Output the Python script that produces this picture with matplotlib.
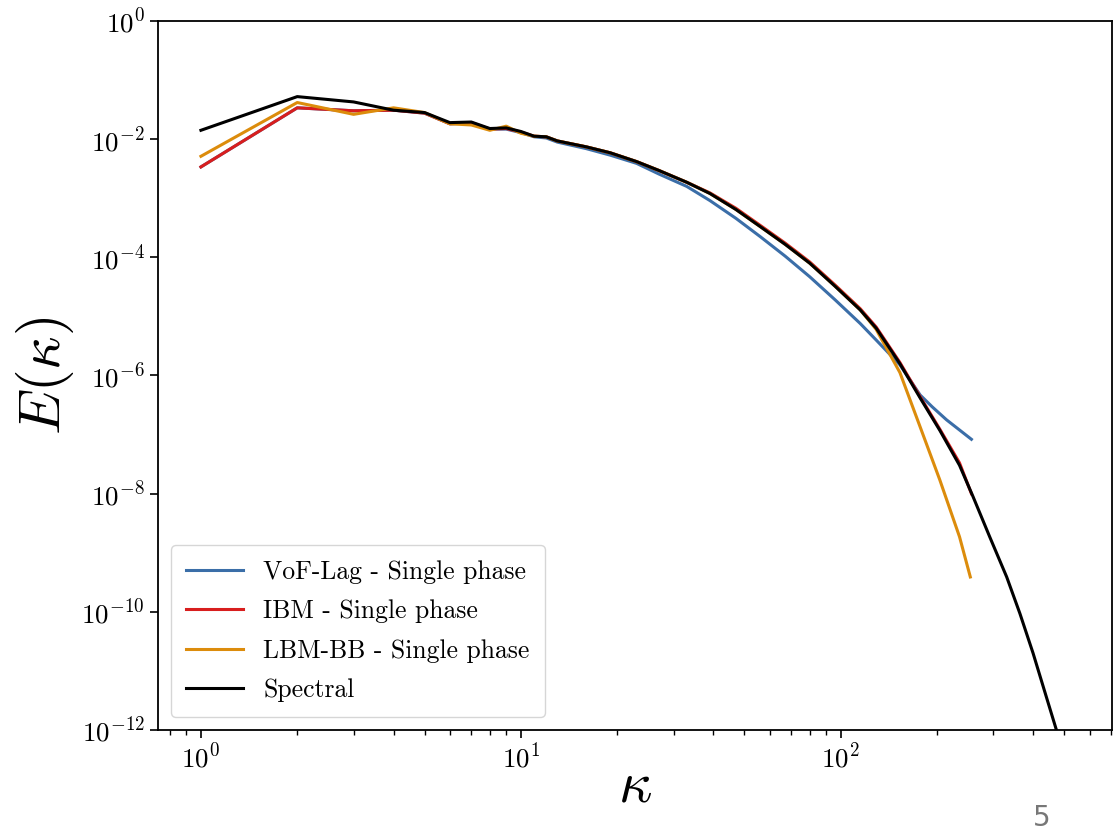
import matplotlib
matplotlib.use('Agg')
import matplotlib.pyplot as plt
import numpy as np

# Energy spectra E(k): log10 values
k_vof = [1, 2, 3, 4, 5, 6, 7, 8, 9, 10, 11, 12, 13, 16, 19, 23, 27, 33, 39, 47, 56, 67, 80, 96,
         115, 129, 153, 177, 193, 214, 256]
logE_vof = [-2.47, -1.47, -1.52, -1.51, -1.56, -1.74, -1.73, -1.83, -1.83, -1.89, -1.96, -1.98, -2.05,
            -2.16, -2.27, -2.41, -2.59, -2.80, -3.04, -3.34, -3.65, -3.98, -4.33, -4.72,
            -5.12, -5.40, -5.82, -6.33, -6.53, -6.75, -7.08]

k_ibm = [1, 2, 3, 4, 5, 6, 7, 8, 9, 10, 11, 12, 13, 16, 19, 23, 27, 33, 39, 47, 56, 67, 80, 96,
         115, 129, 153, 177, 204, 235, 256]
logE_ibm = [-2.47, -1.47, -1.52, -1.51, -1.56, -1.74, -1.72, -1.83, -1.82, -1.88, -1.95, -1.96, -2.03,
            -2.13, -2.23, -2.38, -2.53, -2.73, -2.91, -3.17, -3.46, -3.76, -4.08, -4.47,
            -4.87, -5.18, -5.78, -6.36, -6.91, -7.48, -8.00]

k_lbm = [1, 2, 3, 4, 5, 6, 7, 8, 9, 10, 11, 12, 13, 16, 19, 23, 27, 33, 39, 47, 56, 67, 80, 96,
         115, 129, 153, 177, 204, 235, 254]
logE_lbm = [-2.29, -1.38, -1.58, -1.47, -1.55, -1.74, -1.76, -1.85, -1.78, -1.90, -1.95, -1.96, -2.03,
            -2.13, -2.23, -2.38, -2.53, -2.73, -2.92, -3.19, -3.48, -3.78, -4.10, -4.49,
            -4.89, -5.22, -5.95, -6.87, -7.77, -8.73, -9.41]

k_spec = [1, 2, 3, 4, 5, 6, 7, 8, 9, 10, 11, 12, 13, 16, 19, 23, 27, 33, 39, 47, 56, 67, 80, 96,
          115, 129, 153, 177, 204, 235, 259, 292, 330, 363, 399, 439, 472, 512]
logE_spec = [-1.85, -1.28, -1.37, -1.51, -1.55, -1.72, -1.71, -1.82, -1.81, -1.87, -1.95, -1.96, -2.03,
             -2.13, -2.23, -2.38, -2.53, -2.73, -2.92, -3.19, -3.48, -3.78, -4.10, -4.49,
             -4.89, -5.20, -5.80, -6.38, -6.93, -7.52, -8.05, -8.73, -9.41, -10.03, -10.70, -11.44,
             -12.0, -12.7]

labels = ['VoF-Lag - Single phase', 'IBM - Single phase', 'LBM-BB - Single phase', 'Spectral']
colors = ['#3b6ea8', '#d81e1e', '#dc8c0c', '#000000']

plt.rcParams['font.family'] = 'serif'
plt.rcParams['font.serif'] = ['cmr10']
plt.rcParams['mathtext.fontset'] = 'cm'
plt.rcParams['axes.formatter.use_mathtext'] = True
plt.rcParams['axes.unicode_minus'] = False

fig = plt.figure(figsize=(11.14, 8.36), dpi=100)
ax = fig.add_axes([0.1418, 0.1268, 0.8562, 0.8481])

series = [(k_vof, logE_vof), (k_ibm, logE_ibm), (k_lbm, logE_lbm), (k_spec, logE_spec)]
for (k, le), lab, c in zip(series, labels, colors):
    ax.loglog(k, 10.0 ** np.array(le), color=c, lw=2.2, label=lab)

ax.set_xlim(0.734, 703)
ax.set_ylim(1e-12, 1)
ax.set_yticks([1e-12, 1e-10, 1e-8, 1e-6, 1e-4, 1e-2, 1e0])
ax.minorticks_on()
ax.yaxis.set_minor_locator(matplotlib.ticker.NullLocator())
ax.tick_params(labelsize=19.5, width=1.2, length=6)
ax.tick_params(which='minor', length=3.5, width=1)
for s in ax.spines.values():
    s.set_linewidth(1.3)

ax.set_xlabel(r'$\kappa$', fontsize=42)
ax.xaxis.set_label_coords(0.5, -0.045)
ax.set_ylabel(r'$E(\kappa)$', fontsize=42, labelpad=4)

ax.legend(loc='lower left', fontsize=18.5, frameon=True, handlelength=2.2,
          labelspacing=0.6, borderpad=0.6)

# page number from the source document
fig.text(0.927, 0.012, '5', fontsize=20, color='#777777', family='DejaVu Sans')

fig.savefig('out.png', dpi=100)
